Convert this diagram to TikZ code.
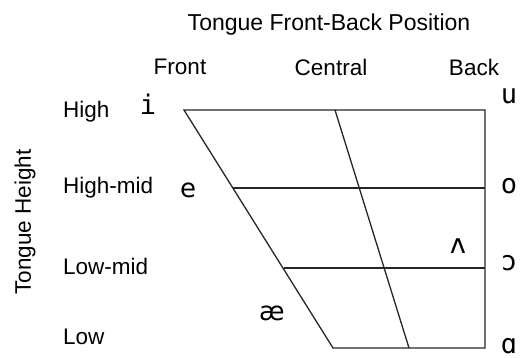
\documentclass[tikz,border=0pt]{standalone}
\usepackage{fontspec}
\setmainfont{Liberation Sans}
\newfontfamily\ipamono{DejaVu Sans Mono}
\newfontfamily\ipasans{DejaVu Sans}
\begin{document}
\begin{tikzpicture}[x=1pt,y=-1pt,
  lbl/.style={font=\fontsize{22.5}{25}\selectfont, inner sep=0pt},
  vm/.style={font=\ipamono\fontsize{27}{29}\selectfont, inner sep=0pt},
  vs/.style={font=\ipasans\fontsize{26}{28}\selectfont, inner sep=0pt},
  edge/.style={line width=1.3pt, draw=black!85}]
\useasboundingbox (0,0) rectangle (521,358);
% corners
\coordinate (tl) at (184,110);
\coordinate (tr) at (485,110);
\coordinate (br) at (485,348);
\coordinate (bl) at (333,348);
\coordinate (hm) at (233,188);
\coordinate (hmr) at (485,188);
\coordinate (lm) at (284,268);
\coordinate (lmr) at (485,268);
\coordinate (ct) at (335,110);
\coordinate (cb) at (409,348);
\draw[edge] (tl) -- (tr) -- (br) -- (bl) -- cycle;
\draw[edge] (hm) -- (hmr);
\draw[edge] (lm) -- (lmr);
\draw[edge] (ct) -- (cb);
% titles
\node[lbl, font=\fontsize{23}{25}\selectfont] (title) at (329,25) {Tongue Front-Back Position};
\node[lbl] (front) at (180,67) {Front};
\node[lbl] (central) at (331,67) {Central};
\node[lbl] (back) at (474,67) {Back};
\node[lbl, rotate=90] (th) at (25,222) {Tongue Height};
\node[lbl, anchor=west] (high) at (63,112) {High};
\node[lbl, anchor=west] (highmid) at (63,188) {High-mid};
\node[lbl, anchor=west] (lowmid) at (63,266) {Low-mid};
\node[lbl, anchor=west] (low) at (63,337) {Low};
% vowels
\node[vm] (i) at (148,104) {i};
\node[vm] (u) at (509,96) {u};
\node[vm] (o) at (509,186) {o};
\node[vm] (oo) at (509,263) {ɔ};
\node[vm] (a) at (509,346) {ɑ};
\node[vm] (v) at (458,246) {ʌ};
\node[vs] (e) at (188,190) {e};
\node[vs] (ae) at (272,313) {æ};
\end{tikzpicture}
\end{document}
